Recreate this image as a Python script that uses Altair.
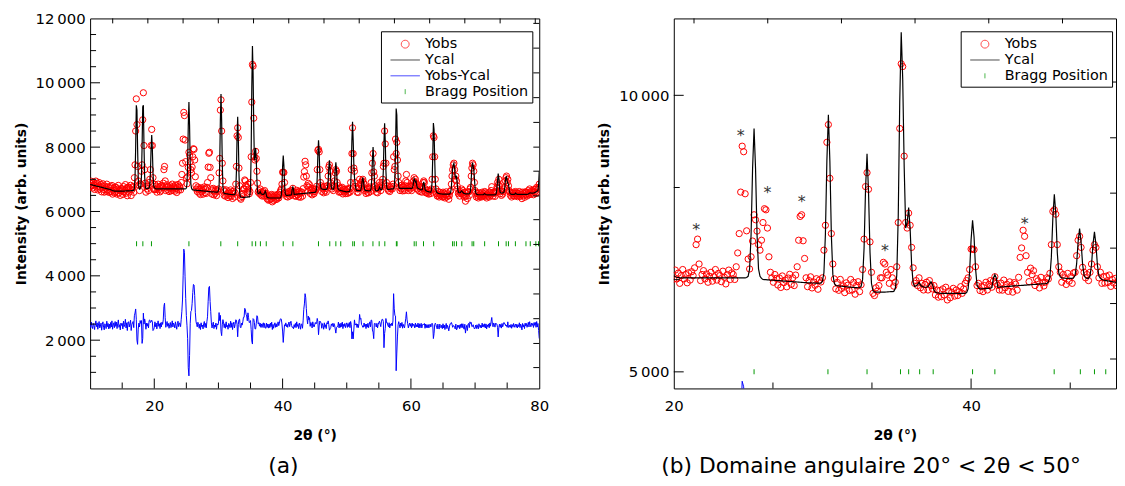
import altair as alt
import numpy as np
import pandas as pd

# ---------------- data ----------------
TT_START = 10.0          # first 2theta of the scan
TT_STEP = 0.1            # scan step (deg)
RESID_OFFSET = 2450      # vertical offset of the Yobs-Ycal curve
BRAGG_LEVEL = 5000       # height at which Bragg ticks are drawn

yobs = [
    6880, 6775, 6940, 6805, 6730, 6885, 6820, 6685, 6860, 6945,
    6760, 6875, 6670, 6795, 6900, 6695, 6750, 6835, 6610, 6785,
    6860, 6685, 6600, 6785, 6730, 6625, 6850, 6675, 6770, 6595,
    6740, 6602, 6774, 6626, 6808, 6540, 6665, 6730, 6575, 6762,
    6610, 6740, 6540, 6690, 6810, 6580, 6660, 6500, 6710, 6640,
    6702, 6532, 6774, 6604, 6676, 6836, 6568, 6728, 6490, 6750,
    6762, 6602, 6704, 6814, 6496, 6676, 6738, 6780, 6595, 7050,
    7450, 8500, 9500, 8700, 7400, 6950, 6820, 6650, 6860, 6850,
    7250, 7450, 8850, 9690, 8050, 7300, 6880, 6600, 6790, 6700,
    6790, 6650, 6900, 7000, 7300, 8050, 8550, 8050, 7050, 6700,
    6677, 6840, 6680, 6785, 6600, 6740, 6850, 6680, 6760, 6610,
    6790, 6660, 6810, 6740, 6880, 7300, 7400, 6950, 6650, 6760,
    6830, 6680, 6770, 6620, 6730, 6800, 6640, 6720, 6850, 6660,
    6780, 6740, 6630, 6820, 6710, 6590, 6760, 6840, 6670, 6790,
    6760, 6670, 6900, 7150, 7500, 8250, 9080, 8980, 8220, 7550,
    7040, 6860, 7080, 7365, 7840, 7750, 7545, 7300, 7200, 7380,
    7700, 7950, 7930, 7600, 7080, 6800, 6700, 6620, 6760, 6690,
    6570, 6698, 6526, 6734, 6612, 6660, 6538, 6696, 6764, 6582,
    6700, 6560, 6750, 6900, 7380, 7810, 7840, 7370, 7050, 6700,
    6540, 6649, 6718, 6517, 6626, 6565, 6684, 6493, 6662, 6625,
    6700, 7200, 7650, 9150, 9470, 8500, 7500, 6950, 6680, 6500,
    6617, 6474, 6671, 6508, 6555, 6432, 6609, 6566, 6473, 6670,
    6478, 6616, 6404, 6562, 6630, 6450, 6574, 6850, 7400, 8350,
    8600, 8300, 7350, 6800, 6420, 6380, 6520, 6460, 6560, 6700,
    6700, 6980, 6950, 6800, 6750, 6600, 6850, 6700, 6550, 6620,
    6900, 7700, 9400, 10570, 10520, 8900, 7700, 7600, 7870, 7650,
    7250, 6880, 6600, 6650, 6560, 6700, 6520, 6600, 6480, 6580,
    6620, 6480, 6650, 6560, 6500, 6560, 6390, 6480, 6350, 6470,
    6360, 6500, 6390, 6530, 6300, 6460, 6340, 6440, 6510, 6370,
    6480, 6380, 6450, 6540, 6420, 6500, 6600, 6650, 6700, 6850,
    7220, 7220, 7210, 6900, 6560, 6600, 6470, 6540, 6450, 6560,
    6620, 6480, 6580, 6650, 6530, 6640, 6720, 6600, 6560, 6480,
    6605, 6477, 6659, 6521, 6583, 6455, 6627, 6559, 6441, 6613,
    6585, 6477, 6709, 7070, 7240, 7560, 7450, 7100, 6800, 6631,
    6875, 6757, 6829, 6561, 6683, 6645, 6517, 6709, 6611, 6553,
    6620, 6700, 6680, 6780, 7300, 7900, 7930, 7850, 7300, 6900,
    6800, 6620, 6760, 6700, 6580, 6780, 6640, 6720, 6600, 6790,
    6800, 7100, 7380, 7450, 7250, 6890, 6800, 6700, 6760, 6650,
    6800, 6950, 7200, 7300, 7250, 6900, 6700, 6800, 6600, 6720,
    6605, 6730, 6615, 6750, 6545, 6670, 6605, 6690, 6555, 6640,
    6700, 6560, 6680, 6590, 6720, 6600, 6900, 7300, 7800, 8600,
    7800, 7350, 7250, 6900, 6780, 6720, 6600, 6700, 6590, 6710,
    7000, 6850, 6900, 6800, 6950, 7000, 6900, 6850, 6650, 6700,
    6560, 6700, 6600, 6720, 6580, 6690, 6760, 6620, 6900, 7200,
    7500, 7800, 7230, 7100, 6800, 6700, 6600, 6720, 6580, 6700,
    6800, 6900, 6750, 6650, 6800, 6900, 7000, 7400, 7500, 8500,
    8100, 7500, 6900, 6800, 6700, 6650, 6780, 6620, 6750, 6700,
    6780, 6700, 6850, 7700, 7300, 7400, 8250, 7800, 8150, 7600,
    7100, 6900, 6750, 6650, 6800, 6700, 6820, 6640, 6760, 6700,
    6650, 6800, 6950, 7150, 6900, 6780, 6650, 6740, 6800, 6700,
    6780, 6650, 6800, 6750, 6950, 7050, 6900, 7000, 6900, 6850,
    6700, 6800, 6650, 6760, 6620, 6700, 6750, 6600, 6720, 6900,
    6950, 6900, 6600, 6700, 6580, 6660, 6560, 6650, 6540, 6620,
    6650, 6560, 6700, 7000, 7700, 8350, 8300, 7700, 7000, 6700,
    6550, 6480, 6620, 6500, 6450, 6600, 6520, 6480, 6560, 6450,
    6600, 6470, 6560, 6420, 6520, 6610, 6450, 6550, 6490, 6380,
    6500, 6620, 6650, 6850, 7100, 7300, 7450, 7500, 7300, 7000,
    7100, 6950, 6800, 6700, 6550, 6600, 6480, 6620, 6560, 6700,
    6560, 6650, 6500, 6450, 6600, 6320, 6480, 6560, 6400, 6600,
    6620, 6500, 6700, 6750, 7100, 7350, 7500, 7450, 7250, 6900,
    6650, 6600, 6450, 6560, 6480, 6420, 6580, 6500, 6460, 6540,
    6450, 6600, 6480, 6560, 6500, 6620, 6470, 6580, 6420, 6540,
    6480, 6570, 6450, 6600, 6500, 6650, 6770, 6560, 6480, 6600,
    6560, 6470, 6600, 6620, 6750, 6900, 6830, 7000, 6800, 6550,
    6620, 6500, 6640, 6540, 6620, 6700, 6750, 6950, 7050, 7100,
    6900, 7000, 6800, 6650, 6600, 6500, 6580, 6450, 6560, 6500,
    6600, 6480, 6560, 6620, 6500, 6580, 6460, 6560, 6500, 6620,
    6470, 6580, 6520, 6400, 6600, 6490, 6560, 6440, 6610, 6520,
    6600, 6480, 6560, 6650, 6520, 6700, 6600, 6540, 6650, 6580,
    6640, 6520, 6680, 6600, 6700, 6560, 6750, 6600, 6720, 6700,
    6850,
]

ycal = [
    6840, 6835, 6830, 6825, 6820, 6815, 6810, 6805, 6800, 6795,
    6790, 6785, 6780, 6775, 6770, 6765, 6760, 6755, 6750, 6745,
    6740, 6735, 6730, 6725, 6720, 6715, 6710, 6705, 6700, 6695,
    6690, 6682, 6674, 6666, 6658, 6650, 6645, 6640, 6635, 6632,
    6630, 6630, 6630, 6630, 6630, 6630, 6630, 6630, 6630, 6630,
    6632, 6632, 6634, 6634, 6636, 6636, 6638, 6638, 6640, 6640,
    6642, 6642, 6644, 6644, 6646, 6646, 6648, 6650, 6655, 6740,
    7056, 7980, 9300, 9150, 7980, 7056, 6740, 6690, 6700, 6778,
    7090, 8000, 9250, 9300, 8000, 7090, 6778, 6710, 6710, 6715,
    6720, 6720, 6737, 6820, 7201, 7932, 8380, 7932, 7201, 6820,
    6737, 6720, 6710, 6705, 6700, 6700, 6700, 6700, 6700, 6700,
    6700, 6700, 6700, 6700, 6700, 6700, 6700, 6700, 6700, 6700,
    6700, 6700, 6700, 6700, 6700, 6700, 6700, 6700, 6700, 6700,
    6700, 6700, 6700, 6700, 6700, 6700, 6700, 6700, 6700, 6700,
    6700, 6700, 6700, 6700, 6700, 6700, 6700, 6700, 6700, 6705,
    6727, 6862, 7483, 8671, 9400, 8671, 7483, 6862, 6727, 6690,
    6670, 6668, 6666, 6664, 6662, 6660, 6658, 6656, 6654, 6652,
    6650, 6648, 6646, 6644, 6642, 6640, 6638, 6636, 6634, 6632,
    6630, 6628, 6626, 6624, 6622, 6620, 6618, 6616, 6614, 6612,
    6610, 6609, 6608, 6607, 6606, 6605, 6604, 6603, 6602, 6605,
    6640, 6792, 7492, 8829, 9650, 8809, 7472, 6762, 6600, 6560,
    6557, 6554, 6551, 6548, 6545, 6542, 6539, 6536, 6533, 6530,
    6528, 6526, 6524, 6522, 6520, 6520, 6544, 6667, 7229, 8305,
    8945, 8255, 7164, 6597, 6469, 6445, 6443, 6442, 6441, 6440,
    6440, 6440, 6442, 6444, 6446, 6448, 6450, 6452, 6455, 6507,
    6741, 7817, 9876, 11140, 10300, 8700, 7600, 7700, 7970, 7580,
    6939, 6609, 6545, 6555, 6575, 6620, 6570, 6545, 6535, 6530,
    6530, 6540, 6580, 6630, 6580, 6480, 6440, 6428, 6425, 6422,
    6420, 6420, 6420, 6420, 6420, 6420, 6420, 6420, 6420, 6420,
    6420, 6420, 6420, 6420, 6420, 6420, 6420, 6433, 6499, 6800,
    7386, 7740, 7436, 6870, 6570, 6513, 6500, 6500, 6502, 6504,
    6506, 6508, 6510, 6512, 6525, 6693, 6760, 6695, 6527, 6530,
    6535, 6537, 6539, 6541, 6543, 6545, 6547, 6549, 6551, 6553,
    6555, 6557, 6559, 6561, 6563, 6565, 6567, 6569, 6571, 6573,
    6575, 6577, 6579, 6581, 6583, 6585, 6587, 6589, 6591, 6593,
    6595, 6600, 6626, 6706, 7074, 7778, 8210, 7858, 7154, 6786,
    6716, 6700, 6695, 6692, 6690, 6690, 6690, 6690, 6690, 6699,
    6744, 6951, 7347, 7590, 7347, 6951, 6744, 6699, 6690, 6689,
    6731, 6927, 7301, 7530, 7301, 6927, 6731, 6689, 6670, 6660,
    6655, 6650, 6645, 6640, 6635, 6630, 6625, 6620, 6615, 6610,
    6612, 6614, 6616, 6618, 6620, 6662, 6769, 7264, 8210, 8790,
    8210, 7483, 7069, 6881, 6727, 6660, 6655, 6650, 6650, 6650,
    6650, 6650, 6674, 6766, 6942, 7050, 6942, 6766, 6674, 6655,
    6650, 6648, 6646, 6644, 6642, 6640, 6640, 6654, 6722, 7034,
    7633, 8000, 7633, 7034, 6722, 6654, 6640, 6645, 6650, 6660,
    6700, 6760, 6700, 6680, 6680, 6701, 6804, 7277, 8184, 8740,
    8184, 7277, 6804, 6701, 6685, 6685, 6688, 6690, 6695, 6698,
    6700, 6700, 6702, 6705, 6775, 7075, 7950, 9200, 9000, 7950,
    7075, 6775, 6720, 6718, 6718, 6718, 6718, 6718, 6718, 6718,
    6718, 6718, 6718, 6718, 6718, 6718, 6718, 6718, 6718, 6718,
    6718, 6718, 6720, 6770, 6900, 7020, 6970, 6920, 6940, 6820,
    6738, 6720, 6710, 6700, 6690, 6680, 6675, 6670, 6690, 6850,
    6920, 6830, 6680, 6650, 6640, 6630, 6620, 6615, 6610, 6605,
    6600, 6602, 6665, 6923, 7675, 8750, 8550, 7675, 6923, 6665,
    6602, 6580, 6570, 6560, 6555, 6550, 6548, 6546, 6544, 6542,
    6540, 6540, 6540, 6540, 6540, 6540, 6540, 6540, 6540, 6540,
    6540, 6560, 6600, 6750, 7050, 7350, 7450, 7500, 7350, 7100,
    7050, 7080, 6900, 6680, 6600, 6580, 6575, 6580, 6620, 6640,
    6620, 6590, 6570, 6560, 6555, 6550, 6550, 6550, 6550, 6550,
    6550, 6560, 6580, 6680, 7000, 7380, 7520, 7420, 7300, 7000,
    6720, 6580, 6540, 6530, 6525, 6520, 6520, 6520, 6520, 6520,
    6520, 6520, 6520, 6525, 6545, 6560, 6540, 6525, 6520, 6515,
    6515, 6515, 6515, 6515, 6515, 6515, 6515, 6515, 6515, 6515,
    6515, 6515, 6520, 6560, 6700, 6950, 7180, 7050, 6750, 6600,
    6580, 6575, 6570, 6575, 6590, 6600, 6700, 6900, 7060, 7080,
    6950, 6880, 6850, 6700, 6580, 6550, 6540, 6530, 6530, 6530,
    6530, 6530, 6545, 6570, 6550, 6535, 6530, 6530, 6530, 6530,
    6530, 6530, 6530, 6530, 6530, 6530, 6530, 6530, 6530, 6530,
    6530, 6530, 6535, 6545, 6560, 6575, 6580, 6575, 6570, 6570,
    6570, 6575, 6580, 6590, 6600, 6610, 6620, 6640, 6650, 6850,
    7250,
]

bragg_positions = [
    17.24, 18.22, 19.56, 25.40, 30.37, 33.00, 35.25, 35.80, 36.54, 37.45,
    40.10, 41.60, 45.59, 47.35, 48.30, 49.06, 50.93, 51.19, 52.53, 54.08,
    55.05, 55.93, 57.73, 57.84, 60.51, 60.82, 61.96, 63.55, 66.49, 66.75,
    67.11, 67.93, 69.53, 69.79, 71.49, 73.65, 74.84, 75.20, 76.28, 77.93,
    78.60, 79.47, 79.89,
]

# impurity reflections marked with "*" in panel (b)
asterisk_tt = [21.5, 24.5, 26.3, 28.6, 34.2, 43.6]
asterisk_int = [7630, 9340, 8310, 8150, 7250, 7750]

# axis tick positions (data units)
a_x_major = [20, 40, 60]
a_x_minor = [15, 25, 30, 35, 45, 50, 55, 65, 70, 75]
a_x_top = [13.52, 19.0, 24.49, 29.98, 35.47, 40.96, 46.45, 51.94, 57.43, 62.92, 68.4, 73.9, 79.38]
a_y_major = [2000, 4000, 6000, 8000, 10000]
a_y_minor = [1000, 1500, 2500, 3000, 3500, 4500, 5000, 5500, 6500, 7000, 7500,
             8500, 9000, 9500, 10500, 11000, 11500]
a_y_right = [11846, 11077, 10308, 9538, 8769, 8000, 7252, 6483, 5745, 4975,
             4206, 3437, 2668, 1898, 1148]

b_x_major = [40]
b_x_minor = [26.67, 33.33, 46.67]
b_x_top = [21.36, 26.32, 31.28, 36.23, 41.19, 46.15]
b_y_major = [5000, 10000]
b_y_minor = [6667, 8333]
b_y_right = [10240, 9232, 8231, 7237, 6235, 5232]

# ---------------- frame ----------------
tt = np.round(TT_START + TT_STEP * np.arange(len(yobs)), 2)
df = pd.DataFrame({"tt": tt, "yobs": yobs, "ycal": ycal})
df["diff"] = df["yobs"] - df["ycal"] + RESID_OFFSET

FONT = "DejaVu Sans"
H = 374
W_A = 454
W_B = 447

LABEL_EXPR = "replace(format(datum.value, ','), ',', '\u2009')"

CIRCLE = "M-0.47,0A0.47,0.47,0,1,1,0.47,0A0.47,0.47,0,1,1,-0.47,0Z"
LINE = "M-1.75,0L1.75,0"
TICK = "M0,-0.3L0,0.3"


def build_panel(data, xdom, ydom, xvals, yvals, width, x_major, x_minor, x_top,
                y_major, y_minor, y_right, legend_labels, legend_colors,
                legend_shapes, legend_x, show_asterisks, caption, caption_dx):
    xscale = alt.Scale(domain=xdom, nice=False, zero=False)
    yscale = alt.Scale(domain=ydom, nice=False, zero=False)
    xaxis = alt.Axis(values=xvals, title="2θ (°)", labelFlush=False,
                     labelOverlap=False, labelPadding=10, titlePadding=16)
    yaxis = alt.Axis(values=yvals, title="Intensity (arb. units)",
                     labelExpr=LABEL_EXPR, labelOverlap=False,
                     labelPadding=5, titlePadding=7)

    def X(f):
        return alt.X(f, type="quantitative", scale=xscale, axis=xaxis)

    def Y(f):
        return alt.Y(f, type="quantitative", scale=yscale, axis=yaxis)

    base = alt.Chart(data)
    pts = base.mark_point(shape="circle", filled=False, color="#ff0000", size=40,
                          strokeWidth=1, opacity=1, clip=True).encode(x=X("tt"), y=Y("yobs"))
    cal = base.mark_line(color="#000000", strokeWidth=1.2, clip=True).encode(x=X("tt"), y=Y("ycal"))
    dif = base.mark_line(color="#0000ff", strokeWidth=1, clip=True).encode(x=X("tt"), y=Y("diff"))

    bdf = pd.DataFrame({"tt": bragg_positions, "lvl": BRAGG_LEVEL})
    bdf = bdf[(bdf.tt >= xdom[0]) & (bdf.tt <= xdom[1])]
    bragg = alt.Chart(bdf).mark_tick(orient="vertical", size=5, thickness=1,
                                     color="#009900", opacity=1, clip=True).encode(x=X("tt"), y=Y("lvl"))

    def yrule(vals, x0, x1):
        return alt.Chart(pd.DataFrame({"v": vals})).mark_rule(color="black", strokeWidth=1).encode(
            y=Y("v"), x=alt.value(x0), x2=alt.value(x1))

    def xrule(vals, y0, y1):
        return alt.Chart(pd.DataFrame({"v": vals})).mark_rule(color="black", strokeWidth=1).encode(
            x=X("v"), y=alt.value(y0), y2=alt.value(y1))

    ticks = [
        yrule(y_major, 0, 10), yrule(y_minor, 0, 6), yrule(y_right, width, width - 6),
        xrule(x_major, H, H - 10), xrule(x_minor, H, H - 6), xrule(x_top, 0, 5),
    ]

    leg = alt.Legend(title=None, orient="none", legendX=legend_x, legendY=13,
                     strokeColor="black", fillColor="white", padding=4,
                     symbolSize=289, symbolStrokeWidth=1, symbolOffset=11.5,
                     labelOffset=11, labelFont=FONT, labelFontSize=14.5,
                     labelColor="black", rowPadding=0, cornerRadius=0,
                     symbolFillColor="transparent")
    ldf = pd.DataFrame({"series": legend_labels})
    legend_layer = alt.Chart(ldf).mark_point(filled=False, strokeWidth=1).encode(
        color=alt.Color("series:N", scale=alt.Scale(domain=legend_labels, range=legend_colors), legend=leg),
        shape=alt.Shape("series:N", scale=alt.Scale(domain=legend_labels, range=legend_shapes), legend=leg),
    ).transform_filter("false")

    layers = [pts, cal, dif, bragg] + ticks
    if show_asterisks:
        adf = pd.DataFrame({"tt": asterisk_tt, "yint": asterisk_int})
        ast = alt.Chart(adf).mark_text(text="*", font=FONT, fontSize=16, color="#333333",
                                       baseline="middle", dy=4).encode(x=X("tt"), y=Y("yint"))
        layers.append(ast)
    layers.append(legend_layer)

    return alt.layer(*layers).properties(
        width=width, height=H,
        title=alt.TitleParams(caption, orient="bottom", anchor="middle", frame="bounds",
                              font=FONT, fontSize=22, fontWeight="normal", color="black",
                              offset=13, dx=caption_dx),
    )


left = build_panel(
    df, [10, 80], [500, 12000], [20, 40, 60, 80],
    [2000, 4000, 6000, 8000, 10000, 12000], W_A,
    a_x_major, a_x_minor, a_x_top, a_y_major, a_y_minor, a_y_right,
    ["Yobs", "Ycal", "Yobs-Ycal", "Bragg Position"],
    ["#ff0000", "#000000", "#0000ff", "#009900"],
    [CIRCLE, LINE, LINE, TICK], 294, False, "(a)", 2,
)

df_b = df[(df.tt >= 20) & (df.tt <= 50)]
right = build_panel(
    df_b, [20, 49.75], [4700, 11390], [20, 40], [5000, 10000], W_B,
    b_x_major, b_x_minor, b_x_top, b_y_major, b_y_minor, b_y_right,
    ["Yobs", "Ycal", "Bragg Position"],
    ["#ff0000", "#000000", "#009900"],
    [CIRCLE, LINE, TICK], 290, True,
    "(b) Domaine angulaire 20° < 2θ < 50°", 14,
)

chart = alt.hconcat(left, right, spacing=47).resolve_scale(
    color="independent", shape="independent"
).resolve_legend(color="independent", shape="independent").properties(
    padding={"left": 5, "top": 0, "right": 0, "bottom": 0}
).configure_view(stroke="black", strokeWidth=1).configure_axis(
    labelFont=FONT, labelFontSize=15, labelColor="black",
    titleFont=FONT, titleFontSize=14, titleFontWeight="bold", titleColor="black",
    grid=False, ticks=False, domain=False,
)

chart.save("out.html", embed_options={"renderer": "svg", "actions": False})
